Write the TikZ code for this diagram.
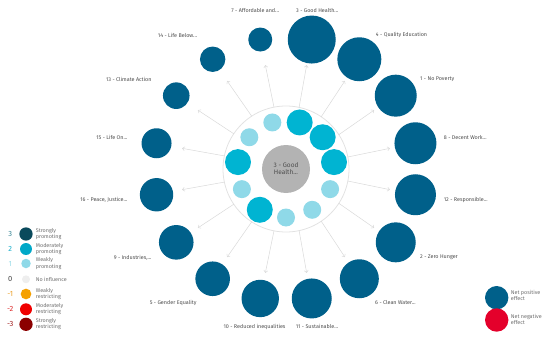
\documentclass[tikz,border=0pt]{standalone}
\usepackage{fontspec}
\setmainfont{Fira Sans}
\usetikzlibrary{arrows.meta}
\definecolor{dblue}{HTML}{00608A}
\definecolor{mcyan}{HTML}{00B4D2}
\definecolor{lcyan}{HTML}{8FD9E8}
\definecolor{cgray}{HTML}{B3B3B3}
\definecolor{lbl}{HTML}{4E4E4E}
\definecolor{ringc}{HTML}{E2E2E2}
\definecolor{arrc}{HTML}{D9D9D9}
\definecolor{lgtext}{HTML}{707070}
\definecolor{cstrong}{HTML}{0A4A5C}
\definecolor{cmod}{HTML}{00A8C8}
\definecolor{cnone}{HTML}{EEEEEE}
\definecolor{cwr}{HTML}{F5A000}
\definecolor{cmr}{HTML}{F00000}
\definecolor{csr}{HTML}{8B0000}
\definecolor{tstrong}{HTML}{3A8796}
\definecolor{tmod}{HTML}{1AAECB}
\definecolor{tweak}{HTML}{9ADCE8}
\definecolor{tnone}{HTML}{444444}
\definecolor{twr}{HTML}{EBA02A}
\definecolor{tmr}{HTML}{DD2A2A}
\definecolor{tsr}{HTML}{A01E1E}
\definecolor{netneg}{HTML}{E4002B}
\begin{document}
\begin{tikzpicture}[x=1pt,y=-1pt,
  dot/.style={circle,inner sep=0pt,outer sep=0pt,minimum size=#1},
  lab/.style={text=lbl,font=\fontsize{5.4}{6}\selectfont,inner sep=0pt},
  lgtxt/.style={text=lgtext,font=\fontsize{5.4}{6.2}\selectfont,align=left,anchor=west,inner sep=0pt},
  lgnum/.style={font=\fontsize{7.5}{8}\selectfont,inner sep=0pt},
  spoke/.style={draw=arrc,line width=0.5pt,-{Straight Barb[length=2.2pt,width=4pt]}}]
\useasboundingbox (0,0) rectangle (550,340);
% ring and centre
\node[dot=126pt,draw=ringc,line width=0.8pt] (ring) at (286,169) {};
\node[dot=48pt,fill=cgray,text=lbl,font=\fontsize{6.5}{7.2}\selectfont,align=center] (ctr) at (286,169) {3 - Good\\Health...};
% outer circles, labels and spokes
\foreach \n/\a/\r/\t/\an/\lx/\ly in {
  o3/78.75/24/{3 - Good Health...}/west/296/11,
  o4/56.25/22/{4 - Quality Education}/west/375.7/35,
  o1/33.75/21/{1 - No Poverty}/west/420/79.3,
  o8/11.25/21/{8 - Decent Work...}/west/443.7/137.7,
  o12/-11.25/20.5/{12 - Responsible...}/west/443.7/200,
  o2/-33.75/20/{2 - Zero Hunger}/west/420/257.7,
  o6/-56.25/19.5/{6 - Clean Water...}/west/375/302.7,
  o11/-78.75/20/{11 - Sustainable...}/west/295.7/326.7,
  o10/-101.25/18.7/{10 - Reduced inequalities}/east/285.7/326.7,
  o5/-123.75/17.3/{5 - Gender Equality}/east/196.7/302.7,
  o9/-146.25/17.3/{9 - Industries,...}/east/151.7/257.7,
  o16/-168.75/16.7/{16 - Peace, Justice...}/east/127.7/200,
  o15/168.75/15/{15 - Life On...}/east/127.7/137.7,
  o13/146.25/13.3/{13 - Climate Action}/east/151.7/79.3,
  o14/123.75/12.7/{14 - Life Below...}/east/197.3/35,
  o7/101.25/12/{7 - Affordable and...}/east/279.3/11}{
  \node[dot=2*\r pt,fill=dblue] (\n) at ({286+132*cos(\a)},{169-132*sin(\a)}) {};
  \node[lab,anchor=\an] (\n l) at (\lx,\ly) {\t};
  \coordinate (\n e) at ({286+106*cos(\a)},{169-106*sin(\a)});
  \draw[spoke] (ring.\a) -- (\n e);
}
% inner circles
\foreach \k/\s/\c in {0/18/lcyan,1/18/lcyan,2/18/lcyan,3/26/mcyan,4/26/mcyan,5/26/mcyan,6/18/lcyan,7/18/lcyan,8/26/mcyan,9/18/lcyan,10/26/mcyan}{
  \pgfmathsetmacro{\ang}{-90+32.7273*\k}
  \node[dot=\s pt,fill=\c] (i\k) at ({286+48.5*cos(\ang)},{169-48.5*sin(\ang)}) {};
}
% legend left
\foreach \k/\y/\num/\tc/\d/\fc/\txt in {
  l3/234/3/tstrong/13.3/cstrong/{Strongly\\promoting},
  l2/249/2/tmod/12/cmod/{Moderately\\promoting},
  l1/263.5/1/tweak/9.5/lcyan/{Weakly\\promoting},
  l0/279.3/0/tnone/8/cnone/{No influence},
  lm1/294/-1/twr/10.7/cwr/{Weakly\\restricting},
  lm2/309.3/-2/tmr/12/cmr/{Moderately\\restricting},
  lm3/324.3/-3/tsr/13.3/csr/{Strongly\\restricting}}{
  \node[lgnum,text=\tc] (\k n) at (10.3,\y) {\num};
  \node[dot=\d pt,fill=\fc] (\k c) at (26,\y) {};
  \node[lgtxt] (\k t) at (35.7,\y) {\txt};
}
% legend right
\node[dot=23.4pt,fill=dblue] (netp) at (496.7,297.7) {};
\node[lgtxt] (netpt) at (510.7,295.3) {Net positive\\effect};
\node[dot=23.4pt,fill=netneg] (netn) at (496.7,320) {};
\node[lgtxt] (netnt) at (510.7,319.7) {Net negative\\effect};
\end{tikzpicture}
\end{document}
